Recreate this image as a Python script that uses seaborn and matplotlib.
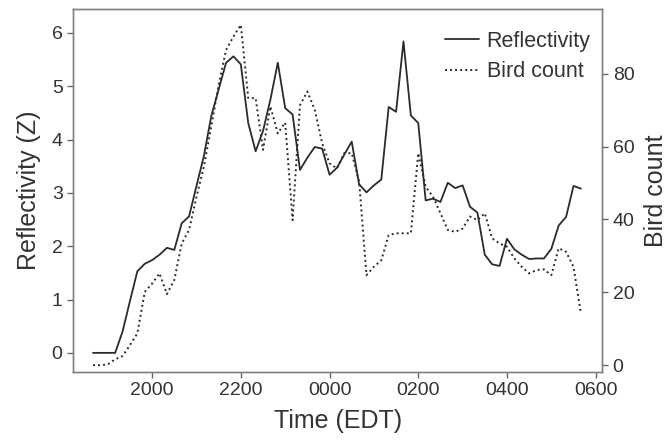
import pandas as pd
import numpy as np
import seaborn as sns
import matplotlib.pyplot as plt
import matplotlib.dates as mdates

# 10-minute samples from 18:40 to 05:40
times = pd.date_range('2010-05-01 18:40', periods=67, freq='10min')

reflectivity = [0, 0, 0, 0, 0.4, 0.97, 1.53, 1.67, 1.74, 1.84,
                1.97, 1.93, 2.43, 2.56, 3.13, 3.69, 4.44, 4.94, 5.44, 5.56,
                5.41, 4.31, 3.78, 4.16, 4.75, 5.44, 4.59, 4.47, 3.43, 3.66,
                3.86, 3.83, 3.34, 3.47, 3.72, 3.96, 3.16, 3.01, 3.14, 3.25,
                4.61, 4.52, 5.84, 4.45, 4.31, 2.86, 2.89, 2.83, 3.19, 3.09,
                3.14, 2.74, 2.63, 1.84, 1.66, 1.63, 2.14, 1.94, 1.84, 1.76,
                1.77, 1.77, 1.95, 2.39, 2.55, 3.13, 3.08]

bird_count = [0, 0, 0.2, 1.6, 2.5, 5.5, 8.7, 20.1, 22.4, 25.2,
              19.5, 23.4, 33.4, 37.1, 46.2, 54.5, 65.5, 76.9, 86.5, 90.2,
              93.4, 73.3, 73.3, 59.1, 71.0, 63.6, 66.6, 39.8, 71.4, 75.1,
              70.1, 60.9, 55.4, 54.0, 58.2, 58.2, 50.4, 24.7, 27.0, 28.8,
              35.7, 36.2, 36.2, 36.2, 58.2, 49.0, 46.2, 41.7, 37.1, 36.6,
              37.5, 40.8, 39.8, 41.7, 34.8, 33.4, 32.5, 29.3, 27.0, 25.2,
              26.1, 26.3, 24.7, 32.1, 31.1, 27.0, 14.2]

df = pd.DataFrame({'time': times, 'reflectivity': reflectivity, 'birds': bird_count})

sns.set_style('ticks')
plt.rcParams['font.family'] = ['Liberation Sans', 'DejaVu Sans']

line_col = '#2b2b2b'
spine_col = '#808080'
text_col = '#333333'

fig = plt.figure(figsize=(6.7, 4.44), dpi=100)
ax = fig.add_axes([0.109, 0.162, 0.790, 0.818])
ax2 = ax.twinx()

sns.lineplot(data=df, x='time', y='reflectivity', ax=ax, color=line_col,
             linewidth=1.3, label='Reflectivity', legend=False)
sns.lineplot(data=df, x='time', y='birds', ax=ax2, color=line_col,
             linewidth=1.4, linestyle=(0, (1, 1.6)), label='Bird count', legend=False)

ax.set_xlim(pd.Timestamp('2010-05-01 18:13'), pd.Timestamp('2010-05-02 06:09'))
ax.set_ylim(-0.36, 6.45)
ax2.set_ylim(-1.9, 97.8)
ax.set_yticks(range(0, 7))
ax2.set_yticks(range(0, 81, 20))

ticks = pd.date_range('2010-05-01 20:00', periods=6, freq='2h')
ax.set_xticks(ticks)
ax.xaxis.set_major_formatter(mdates.DateFormatter('%H%M'))

ax.set_xlabel('Time (EDT)', fontsize=18, color=text_col, labelpad=7)
ax.set_ylabel('Reflectivity (Z)', fontsize=18, color=text_col, labelpad=8)
ax2.set_ylabel('Bird count', fontsize=18, color=text_col, labelpad=7)

for a in (ax, ax2):
    for s in a.spines.values():
        s.set_color(spine_col)
        s.set_linewidth(1.0)
        s.set_visible(True)
    a.tick_params(direction='out', color='#666666', labelcolor=text_col,
                  labelsize=14, length=4.5, width=1.0, pad=3)
ax.tick_params(axis='y', left=True)
ax.tick_params(axis='x', bottom=True)
ax2.tick_params(axis='y', right=True)

h1, l1 = ax.get_legend_handles_labels()
h2, l2 = ax2.get_legend_handles_labels()
ax2.legend(h1 + h2, l1 + l2, loc='upper right', bbox_to_anchor=(0.994, 0.964),
           frameon=False, fontsize=15.5, handlelength=1.6, labelcolor=text_col,
           borderaxespad=0, handletextpad=0.35, labelspacing=0.45)

fig.savefig('out.png', dpi=100)
